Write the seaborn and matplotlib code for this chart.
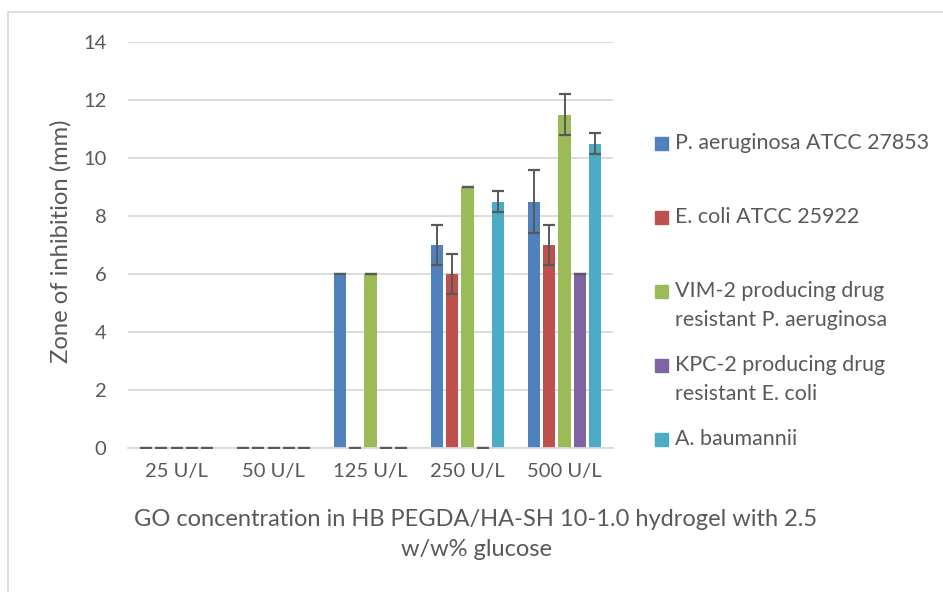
import matplotlib
matplotlib.use("Agg")
import matplotlib.pyplot as plt
from matplotlib.patches import Rectangle
import pandas as pd
import seaborn as sns

# Categories and series
concentrations = ["25 U/L", "50 U/L", "125 U/L", "250 U/L", "500 U/L"]
strains = [
    "P. aeruginosa ATCC 27853",
    "E. coli ATCC 25922",
    "VIM-2 producing drug\nresistant P. aeruginosa",
    "KPC-2 producing drug\nresistant E. coli",
    "A. baumannii",
]
colors = ["#4F81BD", "#C0504D", "#9BBB59", "#8064A2", "#4BACC6"]

# Zone of inhibition (mm) per strain, one value per concentration
pa_atcc = [0, 0, 6, 7, 8.5]
ec_atcc = [0, 0, 0, 6, 7]
vim2_pa = [0, 0, 6, 9, 11.5]
kpc2_ec = [0, 0, 0, 0, 6]
a_baum = [0, 0, 0, 8.5, 10.5]

# Standard deviations
pa_atcc_sd = [0, 0, 0, 0.7, 1.07]
ec_atcc_sd = [0, 0, 0, 0.7, 0.7]
vim2_pa_sd = [0, 0, 0, 0, 0.7]
kpc2_ec_sd = [0, 0, 0, 0, 0]
a_baum_sd = [0, 0, 0, 0.35, 0.35]

values = [pa_atcc, ec_atcc, vim2_pa, kpc2_ec, a_baum]
errors = [pa_atcc_sd, ec_atcc_sd, vim2_pa_sd, kpc2_ec_sd, a_baum_sd]

y_label = "Zone of inhibition (mm)"
x_label_lines = ["GO concentration in HB PEGDA/HA-SH 10-1.0 hydrogel with 2.5",
                 "w/w% glucose"]

df = pd.DataFrame(
    [(c, s, v) for s, vals in zip(strains, values) for c, v in zip(concentrations, vals)],
    columns=["conc", "strain", "zone"],
)

sns.set_style("white")
plt.rcParams["font.family"] = ["Lato", "DejaVu Sans"]
text_color = "#595959"
grid_color = "#D9D9D9"

W, H = 943, 592
fig = plt.figure(figsize=(W / 100, H / 100), dpi=100)
renderer = fig.canvas.get_renderer()


def px_y(y):
    return 1 - y / H


def size_for_width(text, width_px, ref=12.0):
    """Font size at which `text` spans roughly width_px pixels."""
    t = fig.text(0, 0, text, fontsize=ref)
    w = t.get_window_extent(renderer).width
    t.remove()
    return ref * width_px / w


tick_size = size_for_width("125 U/L", 74)
legend_size = size_for_width(strains[0], 253)
xlabel_size = size_for_width(x_label_lines[0], 680)
ylabel_size = size_for_width(y_label, 243)

ax = fig.add_axes([128 / W, px_y(448), (613 - 128) / W, (448 - 42) / H])

sns.barplot(
    data=df, x="conc", y="zone", hue="strain",
    order=concentrations, hue_order=strains, palette=colors,
    width=0.775, gap=0.2, errorbar=None, legend=False, ax=ax,
    saturation=1, linewidth=0,
)

# Error bars on each bar
for container, err in zip(ax.containers, errors):
    xs = [p.get_x() + p.get_width() / 2 for p in container.patches]
    hs = [p.get_height() for p in container.patches]
    ax.errorbar(xs, hs, yerr=err, fmt="none", ecolor=text_color,
                elinewidth=1.4, capsize=4.3, capthick=1.6, zorder=3)

ax.set_ylim(0, 14)
ax.set_xlim(-0.5, 4.5)
ax.set_yticks(range(0, 15, 2))
ax.yaxis.grid(True, color=grid_color, linewidth=1.3)
ax.set_axisbelow(True)
for side in ["top", "right", "left"]:
    ax.spines[side].set_visible(False)
ax.spines["bottom"].set_color(grid_color)
ax.spines["bottom"].set_linewidth(1.3)
ax.tick_params(axis="both", length=0, labelsize=tick_size, colors=text_color)
ax.tick_params(axis="x", pad=11)
ax.tick_params(axis="y", pad=15.5)
ax.set_xlabel("")
ax.set_ylabel("")

# Axis titles
fig.text(61 / W, px_y(241), y_label, rotation=90, ha="center", va="center",
         fontsize=ylabel_size, color=text_color)
for line, y in zip(x_label_lines, [520, 549]):
    fig.text(476 / W, px_y(y), line, ha="center", va="center",
             fontsize=xlabel_size, color=text_color)

# Legend entries
legend_y = [143, 217, 291, 365, 439]
line_step = 29
for lab, col, y in zip(strains, colors, legend_y):
    fig.add_artist(Rectangle((655 / W, px_y(y + 6.5)), 13 / W, 13 / H,
                             transform=fig.transFigure, color=col))
    for k, part in enumerate(lab.split("\n")):
        fig.text(675 / W, px_y(y + k * line_step), part, ha="left", va="center",
                 fontsize=legend_size, color=text_color)

# Chart area border
fig.add_artist(Rectangle((8 / W, -0.1), 1.2, 1 - 12 / H + 0.1,
                         transform=fig.transFigure, fill=False,
                         edgecolor=grid_color, linewidth=1.2))

fig.savefig("out.png", dpi=100)
